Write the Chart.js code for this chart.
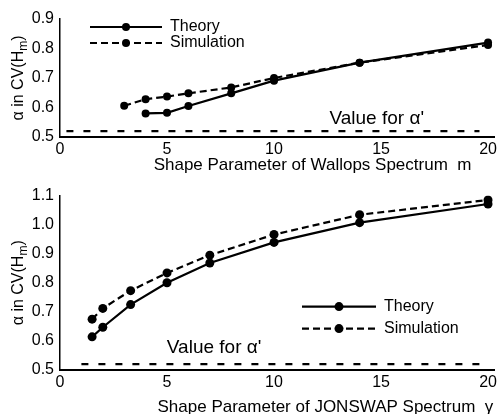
<!DOCTYPE html>
<html>
<head>
<meta charset="utf-8">
<script src="https://cdn.jsdelivr.net/npm/chart.js@4.4.1/dist/chart.umd.min.js"></script>
<style>
  body { margin: 0; background: #fff; }
  canvas { position: absolute; left: 0; }
  #top { top: 0; }
  #bottom { top: 180px; }
</style>
</head>
<body>
<canvas id="top" width="500" height="180"></canvas>
<canvas id="bottom" width="500" height="234"></canvas>
<script>
// Wallops spectrum, shape parameter m (top panel)
var wallopsM = [3, 4, 5, 6, 8, 10, 14, 20];
var wallopsTheory = [null, 0.58, 0.582, 0.605, 0.648, 0.691, 0.752, 0.82];
var wallopsSim = [0.606, 0.628, 0.637, 0.648, 0.668, 0.70, 0.752, 0.812];

// JONSWAP spectrum, shape parameter gamma (bottom panel)
var jonswapGamma = [1.5, 2, 3.3, 5, 7, 10, 14, 20];
var jonswapTheory = [0.614, 0.647, 0.725, 0.80, 0.868, 0.939, 1.007, 1.071];
var jonswapSim = [0.675, 0.712, 0.773, 0.834, 0.895, 0.966, 1.034, 1.085];

// value for alpha' (horizontal reference line) and its x extent
var alphaPrime = 0.52;
var alphaSpanTop = [0.3, 19.6];
var alphaSpanBottom = [1, 19.9];

var xTicks = [0, 5, 10, 15, 20];
var yTicksTop = [0.5, 0.6, 0.7, 0.8, 0.9];
var yTicksBottom = [0.5, 0.6, 0.7, 0.8, 0.9, 1.0, 1.1];

var FONT = '"Liberation Sans", Arial, sans-serif';
Chart.defaults.font.family = FONT;
Chart.defaults.font.size = 16;
Chart.defaults.color = "#000";

function points(xs, ys) {
  return xs.map((x, i) => ({ x: x, y: ys[i] })).filter((p) => p.y !== null);
}

// legend, note, axis titles drawn on top of the plot
var panelText = {
  id: "panelText",
  afterDatasetsDraw(chart, args, opts) {
    var ctx = chart.ctx,
      area = chart.chartArea,
      xs = chart.scales.x,
      ys = chart.scales.y;
    ctx.save();
    ctx.fillStyle = "#000";
    ctx.strokeStyle = "#000";
    ctx.textBaseline = "middle";
    ctx.font = "16px " + FONT;
    opts.legend.items.forEach((idx, i) => {
      var ds = chart.data.datasets[idx];
      var x0 = area.left + opts.legend.left,
        y0 = area.top + opts.legend.top + i * opts.legend.gap,
        len = opts.legend.len;
      ctx.lineWidth = ds.borderWidth;
      ctx.setLineDash(ds.borderDash || []);
      ctx.beginPath();
      ctx.moveTo(x0, y0);
      ctx.lineTo(x0 + len, y0);
      ctx.stroke();
      ctx.setLineDash([]);
      ctx.beginPath();
      ctx.arc(x0 + len / 2, y0, ds.pointRadius, 0, Math.PI * 2);
      ctx.fill();
      ctx.textAlign = "left";
      ctx.fillText(ds.label, x0 + len + 8, y0);
    });
    // note above the alpha' line
    ctx.font = "19px " + FONT;
    ctx.textAlign = "center";
    ctx.fillText(opts.note.text, xs.getPixelForValue(opts.note.x), ys.getPixelForValue(opts.note.y));
    // x axis title
    ctx.font = "17px " + FONT;
    ctx.fillText(opts.xTitle.text, xs.getPixelForValue(opts.xTitle.x), xs.top + opts.xTitle.dy);
    // y axis title with subscript m
    var main = "α in CV(H",
      sub = "m",
      tail = ")";
    ctx.font = "16px " + FONT;
    var wMain = ctx.measureText(main).width,
      wTail = ctx.measureText(tail).width;
    ctx.font = "12px " + FONT;
    var wSub = ctx.measureText(sub).width;
    var total = wMain + wSub + wTail;
    ctx.translate(19, (area.top + area.bottom) / 2);
    ctx.rotate(-Math.PI / 2);
    ctx.textAlign = "left";
    ctx.font = "16px " + FONT;
    ctx.fillText(main, -total / 2, 0);
    ctx.fillText(tail, -total / 2 + wMain + wSub, 0);
    ctx.font = "12px " + FONT;
    ctx.fillText(sub, -total / 2 + wMain, 5);
    ctx.restore();
  },
};

function makePanel(id, xs, theory, sim, span, yTicks, xTitle, legendOpts, note, radius) {
  var yMin = yTicks[0],
    yMax = yTicks[yTicks.length - 1];
  return new Chart(document.getElementById(id), {
    type: "line",
    data: {
      datasets: [
        {
          label: "Theory",
          data: points(xs, theory),
          borderColor: "#000",
          backgroundColor: "#000",
          borderWidth: 2.2,
          pointRadius: radius,
          pointBackgroundColor: "#000",
          pointBorderWidth: 0,
        },
        {
          label: "Simulation",
          data: points(xs, sim),
          borderColor: "#000",
          backgroundColor: "#000",
          borderWidth: 2.2,
          borderDash: [7, 4],
          pointRadius: radius,
          pointBackgroundColor: "#000",
          pointBorderWidth: 0,
        },
        {
          label: "alpha",
          data: [
            { x: span[0], y: alphaPrime },
            { x: span[1], y: alphaPrime },
          ],
          borderColor: "#000",
          borderWidth: 2.2,
          borderDash: [7, 10],
          pointRadius: 0,
        },
      ],
    },
    options: {
      responsive: false,
      animation: false,
      layout: { padding: { top: legendOpts.padTop, left: 0, right: 0, bottom: 0 } },
      plugins: {
        legend: { display: false },
        tooltip: { enabled: false },
        panelText: { legend: legendOpts, note: note, xTitle: xTitle },
      },
      scales: {
        x: {
          type: "linear",
          min: 0,
          max: 20.3,
          afterBuildTicks: (s) => {
            s.ticks = xTicks.map((v) => ({ value: v }));
          },
          afterFit: (s) => {
            s.height = legendOpts.xHeight;
          },
          ticks: { padding: 3, callback: (v) => String(v) },
          grid: { display: false, drawTicks: false },
          border: { color: "#000", width: 2 },
        },
        y: {
          min: yMin,
          max: yMax,
          afterBuildTicks: (s) => {
            s.ticks = yTicks.map((v) => ({ value: v }));
          },
          afterFit: (s) => {
            s.width = 60;
          },
          ticks: { padding: 6, callback: (v) => v.toFixed(1) },
          grid: { display: false, drawTicks: false },
          border: { color: "#000", width: 1.5 },
        },
      },
    },
    plugins: [panelText],
  });
}

makePanel(
  "top",
  wallopsM,
  wallopsTheory,
  wallopsSim,
  alphaSpanTop,
  yTicksTop,
  { text: "Shape Parameter of Wallops Spectrum  m", x: 11.8, dy: 28 },
  { items: [0, 1], left: 30, top: 8, gap: 16, len: 72, padTop: 19, xHeight: 43 },
  { text: "Value for α'", x: 14.8, y: 0.563 },
  4
);

makePanel(
  "bottom",
  jonswapGamma,
  jonswapTheory,
  jonswapSim,
  alphaSpanBottom,
  yTicksBottom,
  { text: "Shape Parameter of JONSWAP Spectrum  γ", x: 12.4, dy: 37 },
  { items: [0, 1], left: 242, top: 111, gap: 22, len: 74, padTop: 13, xHeight: 44 },
  { text: "Value for α'", x: 7.2, y: 0.577 },
  4.5
);
</script>
</body>
</html>
